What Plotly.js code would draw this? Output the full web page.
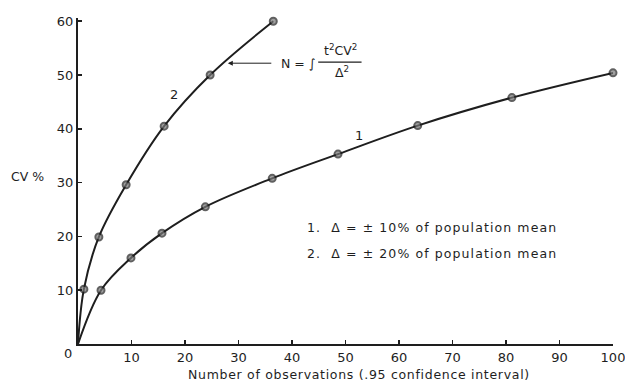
<!DOCTYPE html>
<html>
<head>
<meta charset="utf-8">
<script src="https://cdn.plot.ly/plotly-3.0.1.min.js"></script>
<style>html,body{margin:0;padding:0;background:#fff;}#chart{width:625px;height:384px;}</style>
</head>
<body>
<div id="chart"></div>
<script>
// Curve 1: delta = ±10% of population mean
const n1 = [0, 4.3, 9.9, 15.7, 23.8, 36.3, 48.6, 63.5, 81.1, 100];
const cv1 = [0, 10, 16, 20.6, 25.5, 30.8, 35.3, 40.6, 45.8, 50.4];
// Curve 2: delta = ±20% of population mean
const n2 = [0, 1.1, 3.9, 9.0, 16.1, 24.7, 36.5];
const cv2 = [0, 10.2, 19.9, 29.6, 40.5, 50, 60];

const xTicks = [10, 20, 30, 40, 50, 60, 70, 80, 90, 100];
const yTicks = [10, 20, 30, 40, 50, 60];
const xTitle = 'Number of observations (.95 confidence interval)';
const yTitle = 'CV %';
const legend1 = '1.  \u0394 = \u00b1 10% of population mean';
const legend2 = '2.  \u0394 = \u00b1 20% of population mean';

const ink = '#1e1e1e';
const font = 'DejaVu Sans, sans-serif';

function spaced(t, px) {
  return '<span style="letter-spacing:' + px + 'px">' + t + '</span>';
}

function curve(x, y) {
  return {
    x: x, y: y, type: 'scatter', mode: 'lines+markers',
    line: {shape: 'spline', color: ink, width: 2},
    marker: {size: x.map((v, i) => i === 0 ? 0 : 7), color: '#777', line: {color: ink, width: 2}},
    hoverinfo: 'skip', showlegend: false, cliponaxis: false
  };
}

const data = [curve(n1, cv1), curve(n2, cv2)];

const W = 535, H = 326;
const layout = {
  width: 625, height: 384,
  margin: {l: 78, r: 12, t: 18, b: 40},
  paper_bgcolor: '#fff', plot_bgcolor: '#fff',
  font: {family: font, color: ink, size: 12},
  showlegend: false,
  xaxis: {
    range: [0, 100], tickvals: xTicks, ticktext: xTicks.map(String),
    ticks: 'inside', ticklen: 4, tickwidth: 1.5, tickcolor: ink,
    showline: true, linecolor: ink, linewidth: 2, showgrid: false, zeroline: false,
    ticklabeloverflow: 'allow',
    tickfont: {family: font, size: 13, color: ink}, fixedrange: true
  },
  yaxis: {
    range: [0, 60.6], tickvals: yTicks, ticktext: yTicks.map(String),
    ticks: 'inside', ticklen: 4, tickwidth: 1.5, tickcolor: ink,
    showline: true, linecolor: ink, linewidth: 2, showgrid: false, zeroline: false,
    ticklabeloverflow: 'allow',
    tickfont: {family: font, size: 13, color: ink}, fixedrange: true
  },
  annotations: [
    {x: -10 / W, y: -9 / H, xref: 'paper', yref: 'paper', xanchor: 'center', yanchor: 'middle', text: '0', showarrow: false, font: {size: 13}},
    {x: 281 / W, y: -30 / H, xref: 'paper', yref: 'paper', xanchor: 'center', yanchor: 'middle', text: spaced(xTitle, 0.7), showarrow: false, font: {size: 12.5}},
    {x: -51 / W, y: 168 / H, xref: 'paper', yref: 'paper', xanchor: 'center', yanchor: 'middle', text: yTitle, showarrow: false, font: {size: 12.5}},
    {x: 18, y: 46.3, text: '2', showarrow: false, font: {size: 13}},
    {x: 52.6, y: 38.8, text: '1', showarrow: false, font: {size: 13}},
    {x: 42.4, y: 21.7, xanchor: 'left', text: spaced(legend1, 1.1), showarrow: false, font: {size: 12.5}},
    {x: 42.4, y: 16.9, xanchor: 'left', text: spaced(legend2, 1.1), showarrow: false, font: {size: 12.5}},
    {x: 28.0, y: 52.2, ax: 45, ay: 0, text: '', showarrow: true, arrowhead: 2, arrowsize: 1, arrowwidth: 1, arrowcolor: ink, standoff: 0},
    {x: 37.6, y: 52.2, xanchor: 'left', text: 'N = \u222b', showarrow: false, font: {size: 12.5}},
    {x: 49.0, y: 54.6, text: 't<sup>2</sup>CV<sup>2</sup>', showarrow: false, font: {size: 12.5}},
    {x: 49.3, y: 50.6, text: '\u0394<sup>2</sup>', showarrow: false, font: {size: 12.5}}
  ],
  shapes: [
    {type: 'line', xref: 'x', yref: 'y', x0: 44.9, x1: 53.0, y0: 52.4, y1: 52.4, line: {color: ink, width: 1.2}}
  ]
};

Plotly.newPlot('chart', data, layout, {staticPlot: true, displayModeBar: false});
</script>
</body>
</html>
